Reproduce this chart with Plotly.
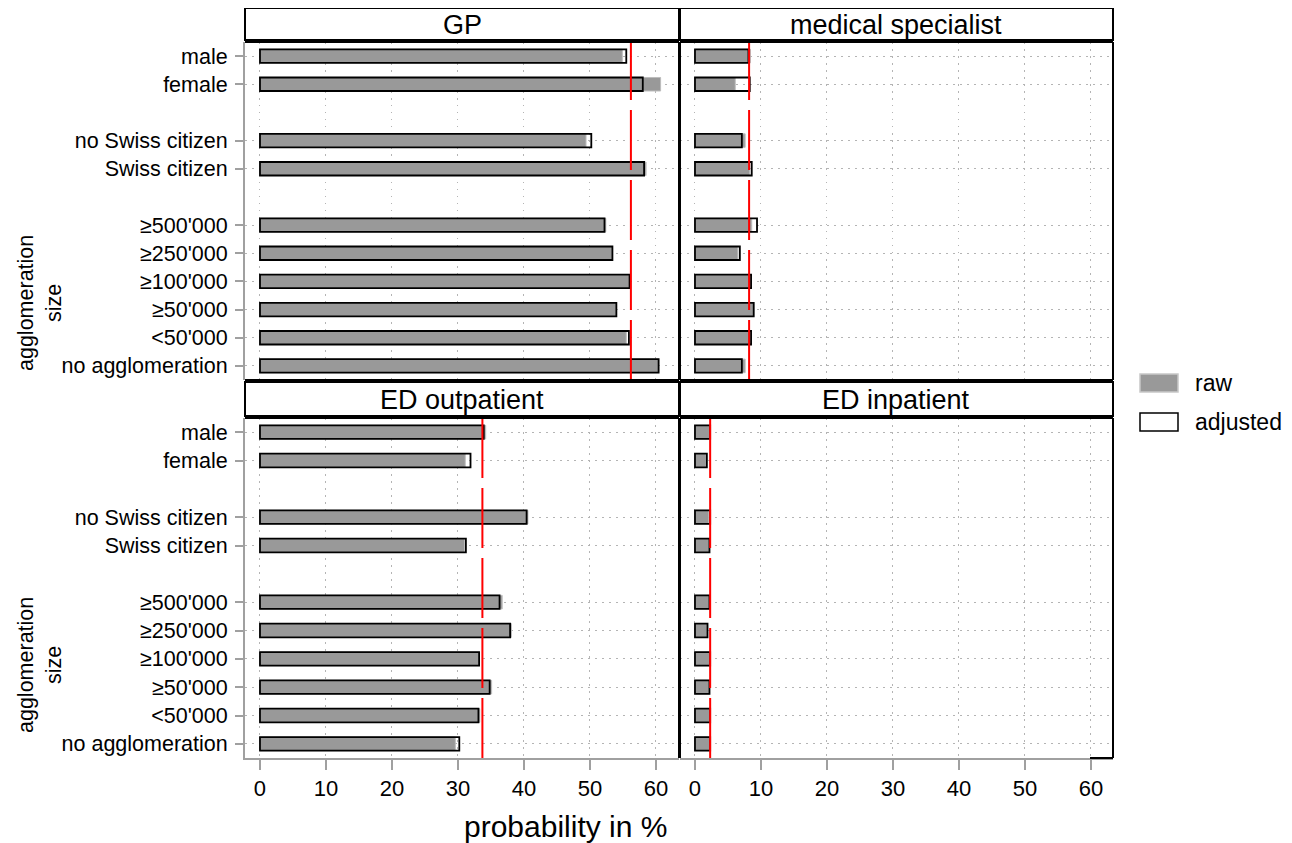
import plotly.graph_objects as go
from plotly.subplots import make_subplots

# The page body has an 8px margin, so the figure is drawn at (8, 8).
OFF = 8
W, H = 1292 - OFF, 843 - OFF

categories = ["male", "female", "", "no Swiss citizen", "Swiss citizen", "",
              "≥500'000", "≥250'000", "≥100'000", "≥50'000", "<50'000", "no agglomeration"]
cat_rows = [0, 1, 3, 4, 6, 7, 8, 9, 10, 11]
cat_labels = [categories[i] for i in cat_rows]

panels = ["GP", "medical specialist", "ED outpatient", "ED inpatient"]

gp_raw = [54.9, 60.7, 49.4, 58.5, 52.4, 53.4, 56.0, 54.0, 55.5, 60.4]
gp_adj = [55.5, 58.0, 50.2, 58.2, 52.2, 53.4, 56.0, 54.0, 55.9, 60.4]
ms_raw = [8.4, 6.1, 7.6, 8.3, 8.6, 6.5, 8.5, 8.9, 8.5, 7.6]
ms_adj = [8.1, 8.3, 7.1, 8.6, 9.4, 6.8, 8.5, 8.9, 8.5, 7.1]
edo_raw = [34.2, 31.1, 40.6, 31.0, 36.7, 38.1, 33.2, 35.1, 33.3, 29.6]
edo_adj = [33.9, 31.9, 40.4, 31.2, 36.3, 37.9, 33.2, 34.8, 33.1, 30.2]
edi_raw = [2.3, 1.7, 2.1, 2.2, 2.3, 1.9, 2.3, 2.2, 2.3, 2.3]
edi_adj = [2.3, 1.8, 2.3, 2.2, 2.2, 1.9, 2.3, 2.2, 2.3, 2.3]
means = [56.2, 8.2, 33.7, 2.3]

raw_vals = [gp_raw, ms_raw, edo_raw, edi_raw]
adj_vals = [gp_adj, ms_adj, edo_adj, edi_adj]

x_ticks = [0, 10, 20, 30, 40, 50, 60]

FONT = "Liberation Sans, Arial, sans-serif"


def px_x(p):
    return (p - OFF) / W


def px_y(p):
    return 1 - (p - OFF) / H


# panel pixel boxes (left, right, top, bottom) in window pixels
boxes = [(245, 679, 42, 380), (680, 1113, 42, 380),
         (245, 679, 418, 758), (680, 1113, 418, 758)]
strips = [(245, 679, 8, 40), (680, 1113, 8, 40),
          (245, 679, 382, 416), (680, 1113, 382, 416)]

fig = make_subplots(rows=2, cols=2)

for i in range(4):
    r, c = i // 2 + 1, i % 2 + 1
    fig.add_trace(go.Bar(
        y=cat_rows, x=raw_vals[i], orientation="h", width=0.48,
        marker=dict(color="#999999", line=dict(color="#bdbdbd", width=1)),
        name="raw", showlegend=False), row=r, col=c)
    fig.add_trace(go.Bar(
        y=cat_rows, x=adj_vals[i], orientation="h", width=0.48,
        marker=dict(color="rgba(0,0,0,0)", line=dict(color="black", width=1.8)),
        name="adjusted", showlegend=False), row=r, col=c)

for i in range(4):
    l, rr, t, b = boxes[i]
    ax = "" if i == 0 else str(i + 1)
    x0 = -2.27
    x1 = x0 + (rr - l) / 6.6
    showx = i >= 2
    showy = i % 2 == 0
    fig.layout["xaxis" + ax].update(
        domain=[px_x(l), px_x(rr)], range=[x0, x1],
        tickvals=x_ticks, showticklabels=showx,
        ticks="outside" if showx else "", ticklen=10, tickcolor="#a0a0a0", tickwidth=2,
        showgrid=True, gridcolor="#b4b4b4", griddash="1.5px,5.5px", gridwidth=1.2,
        zeroline=False, showline=showx, linecolor="#a0a0a0", linewidth=2,
        tickfont=dict(family=FONT, size=22, color="black"), fixedrange=True)
    fig.layout["yaxis" + ax].update(
        domain=[px_y(b), px_y(t)], range=[11.5, -0.5],
        tickvals=cat_rows, ticktext=cat_labels, showticklabels=showy,
        ticks="outside" if showy else "", ticklen=8, tickcolor="#a0a0a0", tickwidth=2,
        ticklabelstandoff=3,
        showgrid=True, gridcolor="#b4b4b4", griddash="1.5px,5.5px", gridwidth=1.2,
        zeroline=False, showline=showy, linecolor="#a0a0a0", linewidth=2,
        tickfont=dict(family=FONT, size=21.5, color="black"), fixedrange=True)

shapes = []
# mean lines
for i in range(4):
    ax = "" if i == 0 else str(i + 1)
    shapes.append(dict(type="line", xref="x" + ax, yref="y" + ax + " domain",
                       x0=means[i], x1=means[i], y0=0, y1=1,
                       line=dict(color="#ff0000", width=2, dash="60px,10px")))
# panel borders
for i in range(4):
    l, rr, t, b = boxes[i]
    shapes.append(dict(type="line", xref="paper", yref="paper",
                       x0=px_x(l), x1=px_x(rr), y0=px_y(t), y1=px_y(t),
                       line=dict(color="black", width=2)))
    shapes.append(dict(type="line", xref="paper", yref="paper",
                       x0=px_x(rr), x1=px_x(rr), y0=px_y(t), y1=px_y(b),
                       line=dict(color="black", width=2)))
    if i % 2 == 1:
        shapes.append(dict(type="line", xref="paper", yref="paper",
                           x0=px_x(l), x1=px_x(l), y0=px_y(t), y1=px_y(b),
                           line=dict(color="black", width=2)))
    if i < 2:
        shapes.append(dict(type="line", xref="paper", yref="paper",
                           x0=px_x(l), x1=px_x(rr), y0=px_y(b), y1=px_y(b),
                           line=dict(color="black", width=2)))
    elif i == 3:
        shapes.append(dict(type="line", xref="paper", yref="paper",
                           x0=px_x(1090), x1=px_x(rr), y0=px_y(b), y1=px_y(b),
                           line=dict(color="black", width=2)))
# strips
annotations = []
for i in range(4):
    l, rr, t, b = strips[i]
    shapes.append(dict(type="rect", xref="paper", yref="paper",
                       x0=px_x(l), x1=px_x(rr), y0=px_y(b), y1=px_y(t),
                       line=dict(color="black", width=2), fillcolor="white"))
    annotations.append(dict(text=panels[i], xref="paper", yref="paper",
                            x=px_x((l + rr) / 2), y=px_y((t + b) / 2 + 1),
                            xanchor="center", yanchor="middle", showarrow=False,
                            font=dict(family=FONT, size=27, color="black")))

# manual legend
shapes.append(dict(type="rect", xref="paper", yref="paper",
                   x0=px_x(1140), x1=px_x(1178), y0=px_y(392), y1=px_y(374),
                   line=dict(color="#c8c8c8", width=1.5), fillcolor="#999999"))
shapes.append(dict(type="rect", xref="paper", yref="paper",
                   x0=px_x(1140), x1=px_x(1178), y0=px_y(431), y1=px_y(413),
                   line=dict(color="black", width=1.5), fillcolor="white"))
annotations.append(dict(text="raw", xref="paper", yref="paper", x=px_x(1193), y=px_y(383),
                        xanchor="left", yanchor="middle", showarrow=False,
                        font=dict(family=FONT, size=23, color="black")))
annotations.append(dict(text="adjusted", xref="paper", yref="paper", x=px_x(1193), y=px_y(422),
                        xanchor="left", yanchor="middle", showarrow=False,
                        font=dict(family=FONT, size=23, color="black")))

# group labels
for yc in (303, 665):
    annotations.append(dict(text="agglomeration<br>size", xref="paper", yref="paper",
                            x=px_x(40), y=px_y(yc), xanchor="center", yanchor="middle",
                            textangle=-90, showarrow=False,
                            font=dict(family=FONT, size=21.5, color="black")))

# x title
annotations.append(dict(text="probability in %", xref="paper", yref="paper",
                        x=px_x(565), y=px_y(826), xanchor="center", yanchor="middle",
                        showarrow=False, font=dict(family=FONT, size=30, color="black")))

fig.update_layout(
    width=W, height=H, barmode="overlay",
    margin=dict(l=0, r=0, t=0, b=0),
    paper_bgcolor="white", plot_bgcolor="white",
    shapes=shapes, annotations=annotations, showlegend=False,
    font=dict(family=FONT, color="black"),
)

fig.write_html("out.html")
